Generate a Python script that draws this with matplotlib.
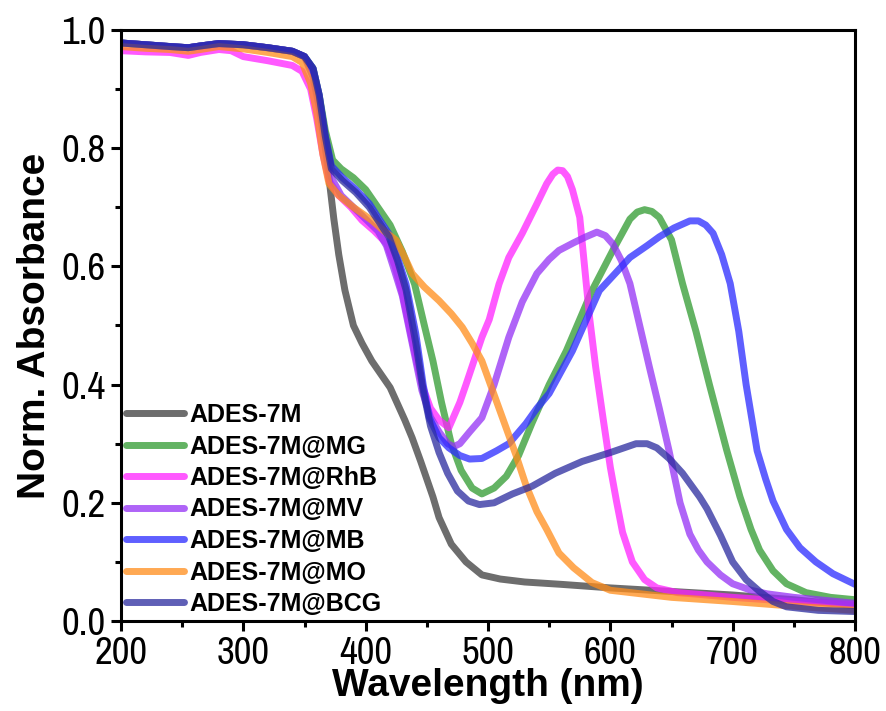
import matplotlib
matplotlib.use("Agg")
from matplotlib import pyplot as plt
from matplotlib.ticker import MultipleLocator, FormatStrFormatter

# plateau shared by most samples (200-350 nm)
plat_x = [200, 220, 240, 255, 265, 280, 300, 320, 340, 350]
plat_y = [0.978, 0.975, 0.972, 0.970, 0.973, 0.977, 0.975, 0.970, 0.964, 0.955]

# ADES-7M
wl_7m = plat_x + [357, 362, 366, 370, 374, 378, 383, 390, 397, 405, 420, 432, 438, 445, 455, 460,
                  470, 482, 495, 510, 530, 560, 600, 650, 700, 750, 800]
ab_7m = plat_y + [0.93, 0.88, 0.82, 0.75, 0.68, 0.62, 0.56, 0.50, 0.47, 0.44, 0.395, 0.34, 0.31, 0.27,
                  0.21, 0.175, 0.13, 0.10, 0.078, 0.071, 0.066, 0.062, 0.056, 0.050, 0.044, 0.036, 0.026]

# ADES-7M@MG
wl_mg = plat_x + [357, 362, 367, 373, 380, 390, 400, 410, 420, 430, 440, 448, 455, 462, 470, 478,
                  487, 495, 505, 515, 525, 536, 550, 564, 585, 602, 616, 622, 628, 634, 640, 650,
                  659, 670, 681, 695, 706, 715, 722, 733, 744, 760, 780, 800]
ab_mg = plat_y + [0.935, 0.89, 0.83, 0.78, 0.765, 0.75, 0.73, 0.70, 0.67, 0.625, 0.57, 0.50, 0.44,
                  0.37, 0.30, 0.255, 0.225, 0.215, 0.225, 0.245, 0.28, 0.335, 0.40, 0.457, 0.559,
                  0.627, 0.68, 0.692, 0.696, 0.693, 0.683, 0.645, 0.571, 0.49, 0.40, 0.29, 0.21,
                  0.155, 0.12, 0.085, 0.063, 0.048, 0.04, 0.036]

# ADES-7M@RhB
wl_rhb = [200, 220, 240, 255, 265, 280, 290, 300, 320, 340, 348, 355, 360, 365, 370, 378, 388,
          397, 407, 417, 424, 430, 438, 446, 453, 460, 468, 477, 482, 495, 501, 509, 517, 528,
          540, 548, 553, 557, 561, 565, 569, 575, 583, 588, 594, 600, 605, 610, 618, 628, 638,
          655, 673, 700, 750, 800]
ab_rhb = [0.965, 0.963, 0.962, 0.957, 0.962, 0.967, 0.965, 0.955, 0.948, 0.940, 0.930, 0.90,
          0.85, 0.79, 0.745, 0.72, 0.70, 0.678, 0.66, 0.639, 0.60, 0.554, 0.475, 0.40, 0.36,
          0.34, 0.327, 0.37, 0.40, 0.48, 0.51, 0.57, 0.615, 0.656, 0.706, 0.74, 0.756, 0.763,
          0.762, 0.752, 0.73, 0.683, 0.514, 0.43, 0.344, 0.26, 0.203, 0.15, 0.10, 0.07, 0.056,
          0.048, 0.045, 0.04, 0.033, 0.028]

# ADES-7M@MV
wl_mv = plat_x + [357, 362, 367, 372, 380, 390, 400, 410, 417, 424, 430, 438, 446, 453, 460, 467,
                  472, 477, 485, 495, 505, 517, 528, 540, 550, 558, 570, 580, 589, 596, 602, 609,
                  616, 624, 632, 640, 648, 657, 665, 672, 679, 690, 700, 715, 728, 750, 775, 800]
ab_mv = plat_y + [0.92, 0.87, 0.80, 0.75, 0.72, 0.70, 0.68, 0.66, 0.635, 0.59, 0.55, 0.47, 0.39,
                  0.345, 0.32, 0.30, 0.295, 0.30, 0.32, 0.344, 0.40, 0.48, 0.54, 0.588, 0.612,
                  0.627, 0.64, 0.65, 0.658, 0.652, 0.638, 0.61, 0.571, 0.50, 0.429, 0.36, 0.288,
                  0.20, 0.147, 0.12, 0.10, 0.078, 0.063, 0.052, 0.046, 0.04, 0.035, 0.03]

# ADES-7M@MB
wl_mb = plat_x + [357, 362, 367, 372, 381, 392, 403, 411, 419, 426, 433, 441, 447, 452, 460, 468,
                  477, 485, 495, 507, 517, 531, 540, 550, 569, 591, 616, 630, 640, 652, 665, 672,
                  678, 684, 691, 698, 705, 711, 720, 727, 733, 744, 755, 768, 782, 800]
ab_mb = plat_y + [0.935, 0.89, 0.82, 0.77, 0.75, 0.73, 0.706, 0.68, 0.655, 0.615, 0.57, 0.486,
                  0.40, 0.344, 0.31, 0.293, 0.28, 0.274, 0.275, 0.288, 0.30, 0.334, 0.36, 0.385,
                  0.457, 0.559, 0.615, 0.635, 0.65, 0.665, 0.677, 0.677, 0.67, 0.656, 0.62, 0.571,
                  0.49, 0.40, 0.288, 0.24, 0.203, 0.155, 0.124, 0.10, 0.08, 0.062]

# ADES-7M@MO
wl_mo = [200, 220, 240, 255, 265, 280, 300, 320, 340, 348, 355, 360, 365, 370, 378, 390, 405, 415,
         425, 432, 438, 448, 460, 470, 479, 487, 495, 502, 509, 516, 523, 531, 540, 548, 558, 570,
         585, 600, 650, 700, 750, 800]
ab_mo = [0.972, 0.969, 0.967, 0.964, 0.967, 0.972, 0.968, 0.962, 0.955, 0.945, 0.91, 0.86, 0.79,
         0.74, 0.72, 0.70, 0.678, 0.66, 0.644, 0.615, 0.588, 0.565, 0.542, 0.52, 0.497, 0.47,
         0.44, 0.40, 0.36, 0.32, 0.28, 0.23, 0.185, 0.155, 0.115, 0.09, 0.065, 0.052, 0.04,
         0.033, 0.025, 0.018]

# ADES-7M@BCG
wl_bcg = plat_x + [357, 362, 367, 372, 381, 392, 403, 411, 419, 426, 433, 441, 447, 453, 460, 467,
                   475, 484, 493, 505, 520, 536, 555, 577, 600, 621, 630, 638, 648, 659, 673, 679,
                   690, 700, 711, 722, 733, 744, 770, 800]
ab_bcg = plat_y + [0.935, 0.89, 0.82, 0.765, 0.745, 0.725, 0.70, 0.675, 0.65, 0.61, 0.56, 0.47,
                   0.39, 0.33, 0.285, 0.25, 0.22, 0.203, 0.197, 0.20, 0.215, 0.228, 0.25, 0.27,
                   0.285, 0.30, 0.30, 0.293, 0.275, 0.25, 0.21, 0.19, 0.145, 0.10, 0.07, 0.05,
                   0.033, 0.024, 0.018, 0.016]

series = [
    ('ADES-7M', wl_7m, ab_7m, '#3c3c3c'),
    ('ADES-7M@MG', wl_mg, ab_mg, '#2f9a2f'),
    ('ADES-7M@RhB', wl_rhb, ab_rhb, '#ff22ff'),
    ('ADES-7M@MV', wl_mv, ab_mv, '#9430f5'),
    ('ADES-7M@MB', wl_mb, ab_mb, '#2a2aff'),
    ('ADES-7M@MO', wl_mo, ab_mo, '#ff8c1a'),
    ('ADES-7M@BCG', wl_bcg, ab_bcg, '#2a2a9e'),
]

tick_font = ['Archivo Narrow', 'Roboto Condensed', 'DejaVu Sans']
bold_font = ['Liberation Sans', 'DejaVu Sans']

fig = plt.figure(figsize=(8.86, 7.11), dpi=100)
ax = fig.add_axes([121 / 886, 1 - 621 / 711, 734 / 886, 591 / 711])

for label, x, y, c in series:
    ax.plot(x, y, color=c, lw=5, alpha=0.75, label=label,
            solid_capstyle='round', solid_joinstyle='round')

ax.set_xlim(200, 800)
ax.set_ylim(0, 1.0)
ax.xaxis.set_major_locator(MultipleLocator(100))
ax.xaxis.set_minor_locator(MultipleLocator(50))
ax.yaxis.set_major_locator(MultipleLocator(0.2))
ax.yaxis.set_minor_locator(MultipleLocator(0.1))
ax.yaxis.set_major_formatter(FormatStrFormatter('%.1f'))

for s in ax.spines.values():
    s.set_linewidth(2.2)
ax.tick_params(which='major', direction='out', length=7, width=2.2, labelsize=28, pad=4)
ax.tick_params(which='minor', direction='out', length=4.5, width=2.2)
for lab in ax.get_xticklabels() + ax.get_yticklabels():
    lab.set_fontfamily(tick_font)

ax.set_xlabel('Wavelength (nm)', fontsize=28, fontweight='bold', family=bold_font, labelpad=-2)
ax.set_ylabel('Norm. Absorbance', fontsize=28, fontweight='bold', family=bold_font, labelpad=6)

leg = ax.legend(loc='lower left', frameon=False,
                prop={'family': bold_font, 'weight': 'bold', 'size': 18},
                handlelength=2.3, handletextpad=0.25, labelspacing=0.3, borderaxespad=0.15,
                borderpad=0.05, bbox_to_anchor=(0.0, 0.0))
for h in leg.get_lines():
    h.set_linewidth(5)

fig.savefig('out.png', dpi=100)
